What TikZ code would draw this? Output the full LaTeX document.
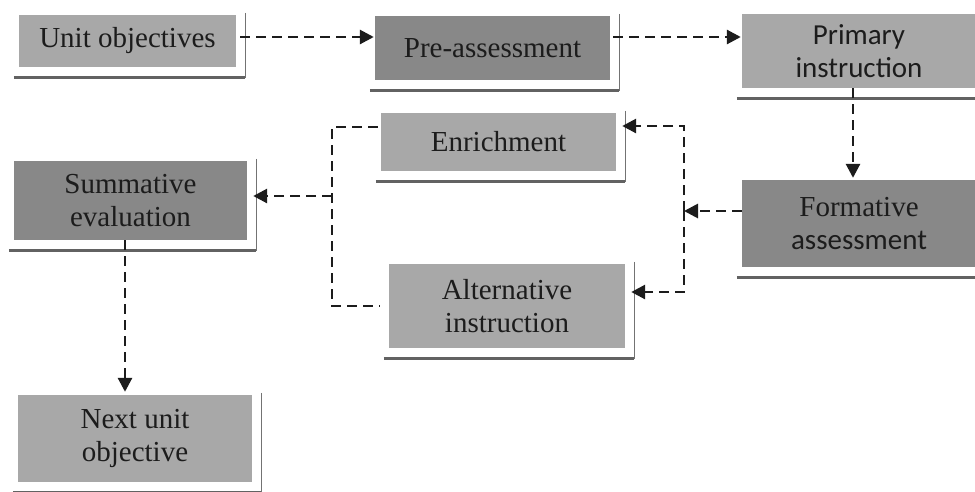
\documentclass[tikz,border=0pt]{standalone}
\usepackage{fontspec}
\setmainfont{Liberation Serif}
\newfontfamily\calibrialt{Carlito}
\usetikzlibrary{arrows.meta,calc}

\definecolor{boxlight}{RGB}{168,168,168}
\definecolor{boxdark}{RGB}{136,136,136}
\definecolor{inkgray}{RGB}{28,28,28}
\definecolor{edgegray}{RGB}{115,115,115}

\tikzset{
  stagebox/.style={fill=boxlight, inner sep=0pt, align=center, text=inkgray,
    font=\fontsize{29}{33}\selectfont},
  stagedark/.style={stagebox, fill=boxdark},
  sideline/.style={draw=edgegray, line width=1.1pt},
  groundline/.style={draw=edgegray!85!black, line width=2.8pt},
  flowplain/.style={draw=inkgray, line width=2.8pt, dash pattern=on 10pt off 6pt},
  flow/.style={flowplain, -{Triangle[length=14pt,width=14pt]}},
}

% page-edge frame: thin line on the right, heavy line underneath
\newcommand\stageedge[1]{%
  \draw[sideline] ([xshift=9pt,yshift=2pt]#1.north east) -- ([xshift=9pt,yshift=-11pt]#1.south east);
  \draw[groundline] ([xshift=-5pt,yshift=-10pt]#1.south west) -- ([xshift=9pt,yshift=-10pt]#1.south east);
}

\begin{document}
\begin{tikzpicture}[x=1pt,y=-1pt]
  \useasboundingbox (0,0) rectangle (975,491);
  \clip (0,0) rectangle (975,491);
  \fill[white] (0,0) rectangle (975,491);

  % stages
  \node[stagebox,  minimum width=217pt, minimum height=52pt] (uo) at (127.5,41)  {Unit objectives};
  \node[stagedark, minimum width=235pt, minimum height=64pt] (pa) at (492.5,48)  {Pre-assessment};
  \node[stagebox,  minimum width=234pt, minimum height=74pt] (pi) at (859,51)    {\calibrialt Primary\\\calibrialt instruction};
  \node[stagebox,  minimum width=235pt, minimum height=58pt] (en) at (498.5,142) {Enrichment};
  \node[stagedark, minimum width=233pt, minimum height=79pt] (se) at (130.5,200.5) {Summative\\evaluation};
  \node[stagedark, minimum width=234pt, minimum height=87pt] (fa) at (859,223.5) {Formative\\\calibrialt assessment};
  \node[stagebox,  minimum width=236pt, minimum height=84pt] (ai) at (507,306)   {Alternative\\instruction};
  \node[stagebox,  minimum width=234pt, minimum height=87pt] (nu) at (135,438.5) {Next unit\\objective};

  \foreach \s in {uo,pa,pi,en,se,fa,ai,nu} {\stageedge{\s}}

  % junction points of the feedback loops
  \coordinate (jr) at (684,211);
  \coordinate (jl) at (332,196);

  % main sequence
  \draw[flow] ([xshift=4pt,yshift=4pt]uo.east) -- ([xshift=-1pt,yshift=4pt]uo.east -| pa.west);
  \draw[flow] ([xshift=3pt,yshift=11pt]pa.east) -- ([xshift=-1pt,yshift=11pt]pa.east -| pi.west);
  \draw[flow] ([xshift=-6pt]pi.south) -- ([xshift=-6pt,yshift=2pt]pi.south |- fa.north);

  % formative assessment branches to enrichment / alternative instruction
  \draw[flow] ([yshift=12.5pt]fa.west) -- (jr);
  \draw[flow] (jr) |- ([xshift=6pt,yshift=16pt]en.east);
  \draw[flow] (jr) |- ([xshift=6pt,yshift=14pt]ai.east);

  % both branches merge into summative evaluation
  \draw[flowplain] ([xshift=-3pt,yshift=15pt]en.west) -| (jl) |- ([xshift=-9pt]ai.west);
  \draw[flow] (jl) -- ([xshift=6pt]jl -| se.east);
  \draw[flow] ([xshift=-5.5pt]se.south) -- ([xshift=-5.5pt,yshift=3pt]se.south |- nu.north);
\end{tikzpicture}
\end{document}
